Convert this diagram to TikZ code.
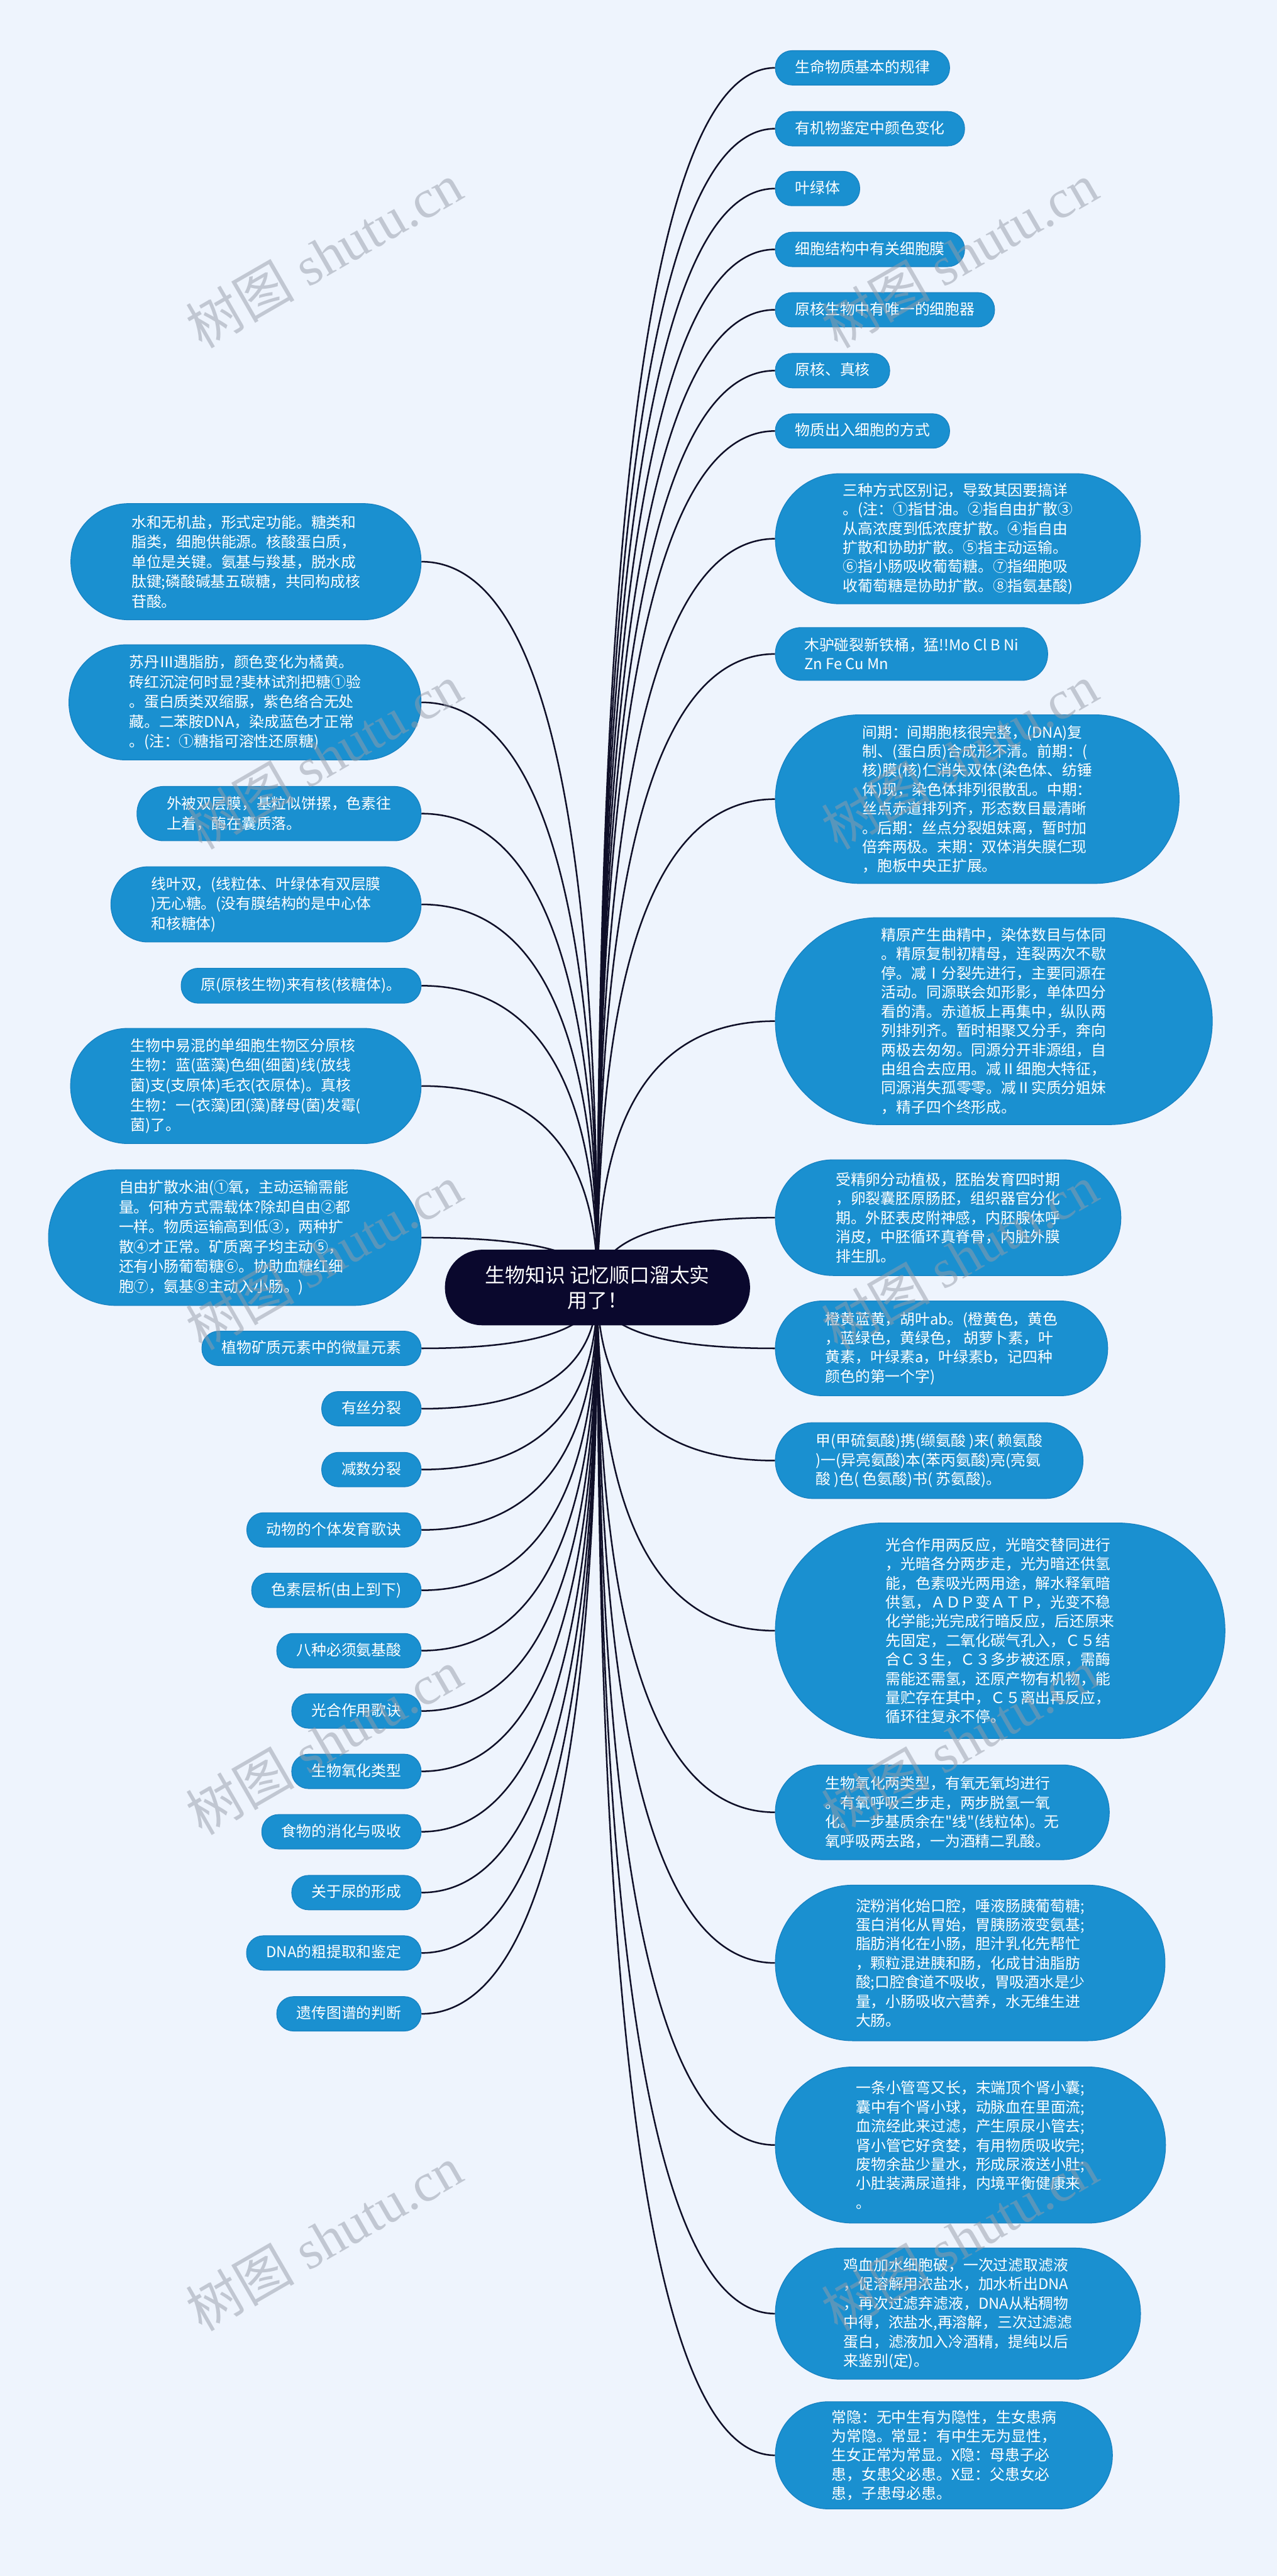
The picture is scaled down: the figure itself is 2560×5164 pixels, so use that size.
\documentclass[tikz,border=0pt]{standalone}
\usepackage{fontspec}
\newfontfamily\cjk{Noto Sans CJK SC}
\newfontfamily\wmserif{Liberation Serif}
\usetikzlibrary{calc}
\definecolor{bgcol}{RGB}{238,244,253}
\definecolor{nodeblue}{RGB}{26,144,208}
\definecolor{nodeedge}{RGB}{22,128,192}
\definecolor{rootcol}{RGB}{10,8,45}
\definecolor{linecol}{RGB}{15,15,40}
\definecolor{wmcol}{RGB}{150,156,168}
\pgfdeclarelayer{back}\pgfdeclarelayer{links}\pgfdeclarelayer{front}
\pgfsetlayers{back,links,main,front}
\newcommand\mylink[2]{%
  \coordinate (tmpc) at (#1 |- #2);
  \draw[conn] (#1) .. controls ($(#1)!0.667!(tmpc)$) and ($(#2)!0.667!(tmpc)$) .. (#2);}
\tikzset{
  pill/.style={rectangle, minimum height=#1*0.01cm,
    rounded corners=#1*0.005cm-0.01cm,
    inner xsep=#1*0.005cm+0.05cm, inner ysep=0.02cm},
  box/.style={fill=nodeblue, draw=nodeedge, line width=0.4pt,
    text=white, align=left,
    font=\cjk\fontsize{8.54pt}{10.9pt}\selectfont},
  rbox/.style={box, pill=#1, anchor=west},
  lbox/.style={box, pill=#1, anchor=east, font=\cjk\fontsize{8.54pt}{11.3pt}\selectfont},
  single/.style={text height=0.245cm, text depth=0.055cm},
  rootbox/.style={pill=150, fill=rootcol, draw=rootcol, text=white,
    align=center, font=\cjk\fontsize{11.4pt}{14.5pt}\selectfont},
  conn/.style={draw=linecol, line width=0.9pt},
  wm/.style={rotate=30, text=wmcol, opacity=0.5,
    font=\wmserif\fontsize{31pt}{31pt}\selectfont}
}
\begin{document}
\begin{tikzpicture}[x=0.01cm,y=-0.01cm]
\begin{pgfonlayer}{back}
\fill[bgcol] (0,0) rectangle (2560,5164);
\end{pgfonlayer}
\useasboundingbox (0,0) rectangle (2560,5164);

% root
\node[rootbox] (root) at (1198,2581) {生物知识 记忆顺口溜太实\\用了！};

% right side
\node[rbox=69,single] (r1) at (1554,136) {生命物质基本的规律};
\node[rbox=69,single] (r2) at (1554,258) {有机物鉴定中颜色变化};
\node[rbox=69,single] (r3) at (1554,378) {叶绿体};
\node[rbox=69,single] (r4) at (1554,500) {细胞结构中有关细胞膜};
\node[rbox=69,single] (r5) at (1554,621) {原核生物中有唯一的细胞器};
\node[rbox=69,single] (r6) at (1554,743) {原核、真核};
\node[rbox=69,single] (r7) at (1554,864) {物质出入细胞的方式};
\node[rbox=261] (r8) at (1554,1080) {三种方式区别记，导致其因要搞详\\。(注：①指甘油。②指自由扩散③\\从高浓度到低浓度扩散。④指自由\\扩散和协助扩散。⑤指主动运输。\\⑥指小肠吸收葡萄糖。⑦指细胞吸\\收葡萄糖是协助扩散。⑧指氨基酸)};
\node[rbox=106] (r9) at (1554,1311) {木驴碰裂新铁桶，猛!!Mo Cl B Ni\\Zn Fe Cu Mn};
\node[rbox=338] (r10) at (1554,1602) {间期：间期胞核很完整，(DNA)复\\制、(蛋白质)合成形不清。前期：(\\核)膜(核)仁消失双体(染色体、纺锤\\体)现，染色体排列很散乱。中期：\\丝点赤道排列齐，形态数目最清晰\\。后期：丝点分裂姐妹离，暂时加\\倍奔两极。末期：双体消失膜仁现\\，胞板中央正扩展。};
\node[rbox=415] (r11) at (1554,2047) {精原产生曲精中，染体数目与体同\\。精原复制初精母，连裂两次不歇\\停。减Ⅰ分裂先进行，主要同源在\\活动。同源联会如形影，单体四分\\看的清。赤道板上再集中，纵队两\\列排列齐。暂时相聚又分手，奔向\\两极去匆匆。同源分开非源组，自\\由组合去应用。减Ⅱ细胞大特征，\\同源消失孤零零。减Ⅱ实质分姐妹\\，精子四个终形成。};
\node[rbox=232] (r12) at (1554,2441) {受精卵分动植极，胚胎发育四时期\\，卵裂囊胚原肠胚，组织器官分化\\期。外胚表皮附神感，内胚腺体呼\\消皮，中胚循环真脊骨，内脏外膜\\排生肌。};
\node[rbox=190] (r13) at (1554,2703) {橙黄蓝黄，胡叶ab。(橙黄色，黄色\\，蓝绿色，黄绿色， 胡萝卜素，叶\\黄素，叶绿素a，叶绿素b，记四种\\颜色的第一个字)};
\node[rbox=152] (r14) at (1554,2928) {甲(甲硫氨酸)携(缬氨酸 )来( 赖氨酸\\)一(异亮氨酸)本(苯丙氨酸)亮(亮氨\\酸 )色( 色氨酸)书( 苏氨酸)。};
\node[rbox=432] (r15) at (1554,3269) {光合作用两反应，光暗交替同进行\\，光暗各分两步走，光为暗还供氢\\能，色素吸光两用途，解水释氧暗\\供氢，ＡＤＰ变ＡＴＰ，光变不稳\\化学能;光完成行暗反应，后还原来\\先固定，二氧化碳气孔入，Ｃ５结\\合Ｃ３生，Ｃ３多步被还原，需酶\\需能还需氢，还原产物有机物，能\\量贮存在其中，Ｃ５离出再反应，\\循环往复永不停。};
\node[rbox=190] (r16) at (1554,3633) {生物氧化两类型，有氧无氧均进行\\。有氧呼吸三步走，两步脱氢一氧\\化。一步基质余在"线"(线粒体)。无\\氧呼吸两去路，一为酒精二乳酸。};
\node[rbox=312] (r17) at (1554,3935) {淀粉消化始口腔，唾液肠胰葡萄糖;\\蛋白消化从胃始，胃胰肠液变氨基;\\脂肪消化在小肠，胆汁乳化先帮忙\\，颗粒混进胰和肠，化成甘油脂肪\\酸;口腔食道不吸收，胃吸酒水是少\\量，小肠吸收六营养，水无维生进\\大肠。};
\node[rbox=313] (r18) at (1554,4300) {一条小管弯又长，末端顶个肾小囊;\\囊中有个肾小球，动脉血在里面流;\\血流经此来过滤，产生原尿小管去;\\肾小管它好贪婪，有用物质吸收完;\\废物余盐少量水，形成尿液送小肚;\\小肚装满尿道排，内境平衡健康来\\。};
\node[rbox=263] (r19) at (1554,4638) {鸡血加水细胞破，一次过滤取滤液\\，促溶解用浓盐水，加水析出DNA\\，再次过滤弃滤液，DNA从粘稠物\\中得，浓盐水,再溶解，三次过滤滤\\蛋白，滤液加入冷酒精，提纯以后\\来鉴别(定)。};
\node[rbox=215] (r20) at (1554,4922) {常隐：无中生有为隐性，生女患病\\为常隐。常显：有中生无为显性，\\生女正常为常显。X隐：母患子必\\患，女患父必患。X显：父患女必\\患，子患母必患。};

% left side
\node[lbox=233] (l1) at (845,1126) {水和无机盐，形式定功能。糖类和\\脂类，细胞供能源。核酸蛋白质，\\单位是关键。氨基与羧基，脱水成\\肽键;磷酸碱基五碳糖，共同构成核\\苷酸。};
\node[lbox=231] (l2) at (845,1408) {苏丹Ⅲ遇脂肪，颜色变化为橘黄。\\砖红沉淀何时显?斐林试剂把糖①验\\。蛋白质类双缩脲，紫色络合无处\\藏。二苯胺DNA，染成蓝色才正常\\。(注：①糖指可溶性还原糖)};
\node[lbox=109] (l3) at (845,1631) {外被双层膜，基粒似饼摞，色素往\\上着，酶在囊质落。};
\node[lbox=151] (l4) at (845,1813) {线叶双，(线粒体、叶绿体有双层膜\\)无心糖。(没有膜结构的是中心体\\和核糖体)};
\node[lbox=70,single] (l5) at (845,1976) {原(原核生物)来有核(核糖体)。};
\node[lbox=231] (l6) at (845,2177) {生物中易混的单细胞生物区分原核\\生物：蓝(蓝藻)色细(细菌)线(放线\\菌)支(支原体)毛衣(衣原体)。真核\\生物：一(衣藻)团(藻)酵母(菌)发霉(\\菌)了。};
\node[lbox=272] (l7) at (845,2481) {自由扩散水油(①氧，主动运输需能\\量。何种方式需载体?除却自由②都\\一样。物质运输高到低③，两种扩\\散④才正常。矿质离子均主动⑤，\\还有小肠葡萄糖⑥。协助血糖红细\\胞⑦，氨基⑧主动入小肠。)};
\node[lbox=69,single] (l8) at (845,2703) {植物矿质元素中的微量元素};
\node[lbox=69,single] (l9) at (845,2824) {有丝分裂};
\node[lbox=69,single] (l10) at (845,2946) {减数分裂};
\node[lbox=69,single] (l11) at (845,3067) {动物的个体发育歌诀};
\node[lbox=69,single] (l12) at (845,3188) {色素层析(由上到下)};
\node[lbox=69,single] (l13) at (845,3309) {八种必须氨基酸};
\node[lbox=69,single] (l14) at (845,3430) {光合作用歌诀};
\node[lbox=69,single] (l15) at (845,3551) {生物氧化类型};
\node[lbox=69,single] (l16) at (845,3672) {食物的消化与吸收};
\node[lbox=69,single] (l17) at (845,3794) {关于尿的形成};
\node[lbox=69,single] (l18) at (845,3915) {DNA的粗提取和鉴定};
\node[lbox=69,single] (l19) at (845,4037) {遗传图谱的判断};

% connectors
\begin{pgfonlayer}{links}
\foreach \i in {1,...,20}{\mylink{root.center}{r\i.west}}
\foreach \i in {1,...,19}{\mylink{root.center}{l\i.east}}
\end{pgfonlayer}

% watermarks
\begin{pgfonlayer}{front}
\foreach \wx in {650,1924}{
  \foreach \wy in {511,1516,2520,3492,4487}{
    \node[wm] (wm-\wx-\wy) at (\wx,\wy) {{\cjk 树图} shutu.cn};
  }
}
\end{pgfonlayer}
\end{tikzpicture}
\end{document}
